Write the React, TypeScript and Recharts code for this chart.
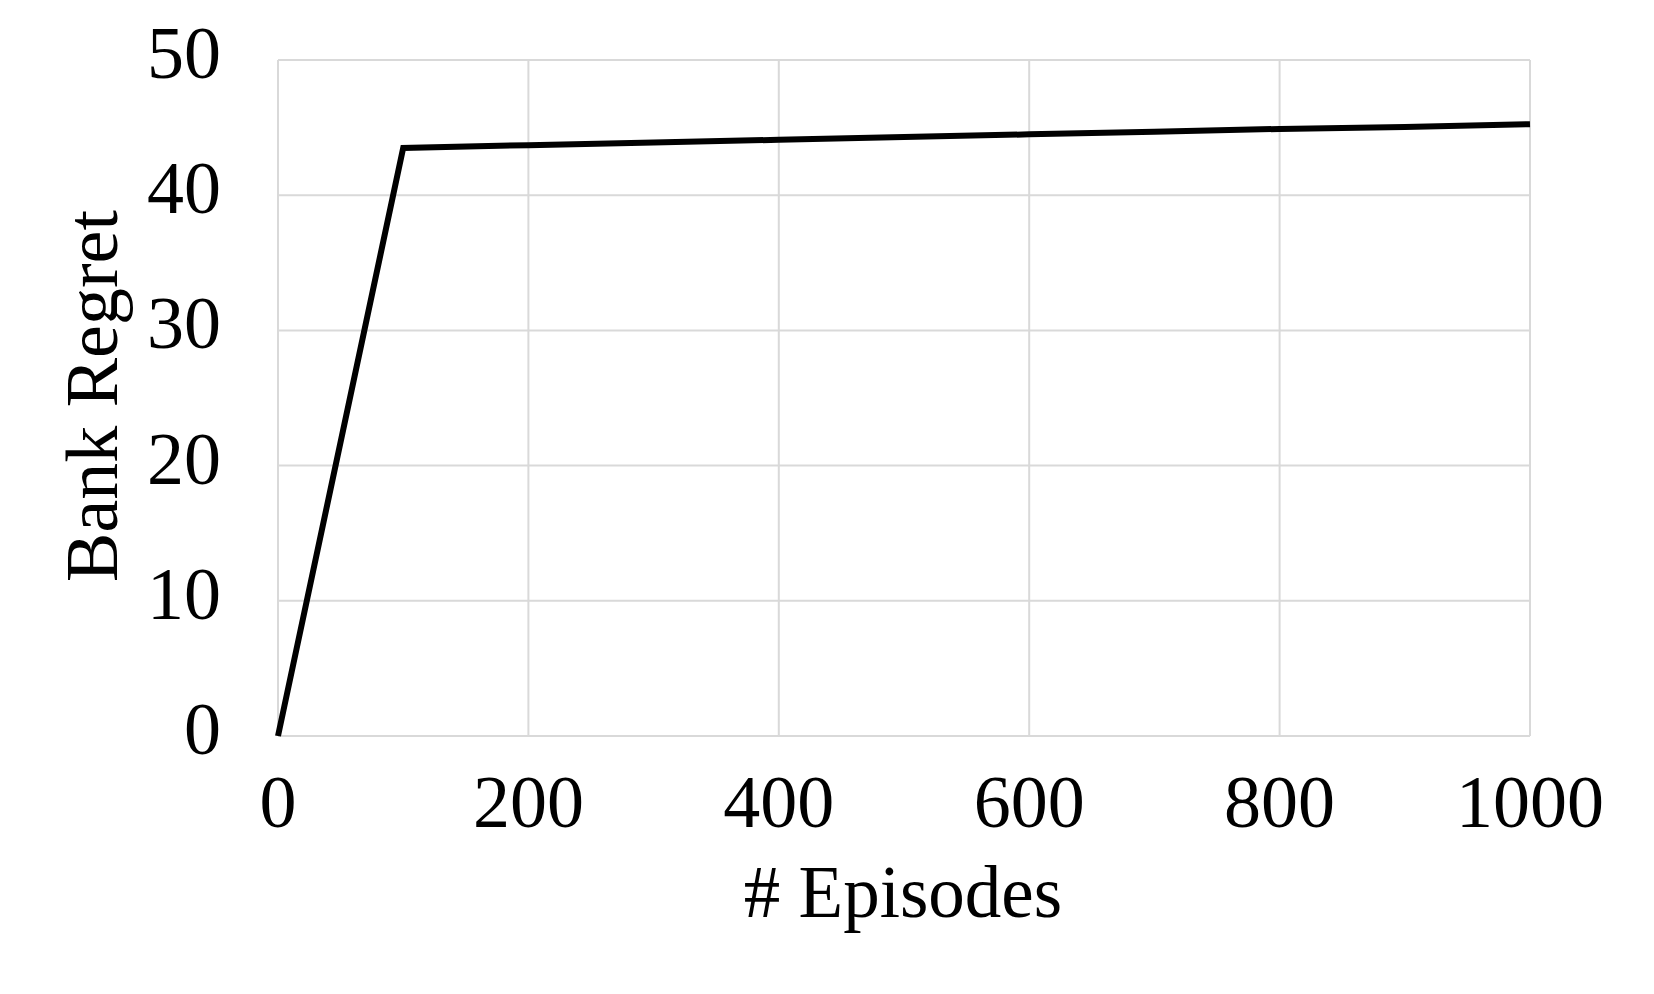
import React from "react";
import { LineChart, Line, XAxis, YAxis, CartesianGrid } from "recharts";

const episodes = [0, 100, 200, 300, 400, 500, 600, 700, 800, 900, 1000];
const bankRegret = [0, 43.5, 43.7, 43.9, 44.1, 44.3, 44.5, 44.7, 44.9, 45.05, 45.25];
const xTicks = [0, 200, 400, 600, 800, 1000];
const yTicks = [0, 10, 20, 30, 40, 50];

const FONT = "'Liberation Serif', 'Times New Roman', serif";

const data = episodes.map((e, i) => ({ episode: e, regret: bankRegret[i] }));

const XTick = (props: any) => (
  <text x={props.x} y={827} textAnchor="middle" fontSize={74} fontFamily={FONT} fill="#000">
    {props.payload.value}
  </text>
);

const YTick = (props: any) => (
  <text x={221} y={props.y + 18} textAnchor="end" fontSize={74} fontFamily={FONT} fill="#000">
    {props.payload.value}
  </text>
);

export default function App() {
  return (
    <div style={{ position: "absolute", left: 0, top: 0, background: "#fff" }}>
      <LineChart
        width={1654}
        height={994}
        data={data}
        margin={{ top: 60, right: 124, left: 0, bottom: 0 }}
      >
        <CartesianGrid stroke="#d9d9d9" strokeWidth={2} />
        <XAxis
          dataKey="episode"
          type="number"
          domain={[0, 1000]}
          ticks={xTicks}
          height={258}
          axisLine={false}
          tickLine={false}
          tick={XTick}
          interval={0}
          label={{
            content: () => (
              <text x={903} y={917} textAnchor="middle" fontSize={73} fontFamily={FONT} fill="#000">
                # Episodes
              </text>
            ),
          }}
        />
        <YAxis
          type="number"
          domain={[0, 50]}
          ticks={yTicks}
          width={278}
          axisLine={false}
          tickLine={false}
          tick={YTick}
          interval={0}
          label={{
            content: () => (
              <text
                x={117}
                y={396}
                transform="rotate(-90 117 396)"
                textAnchor="middle"
                fontSize={74}
                fontFamily={FONT}
                fill="#000"
              >
                Bank Regret
              </text>
            ),
          }}
        />
        <Line
          type="linear"
          dataKey="regret"
          stroke="#000"
          strokeWidth={6}
          dot={false}
          isAnimationActive={false}
        />
      </LineChart>
    </div>
  );
}
